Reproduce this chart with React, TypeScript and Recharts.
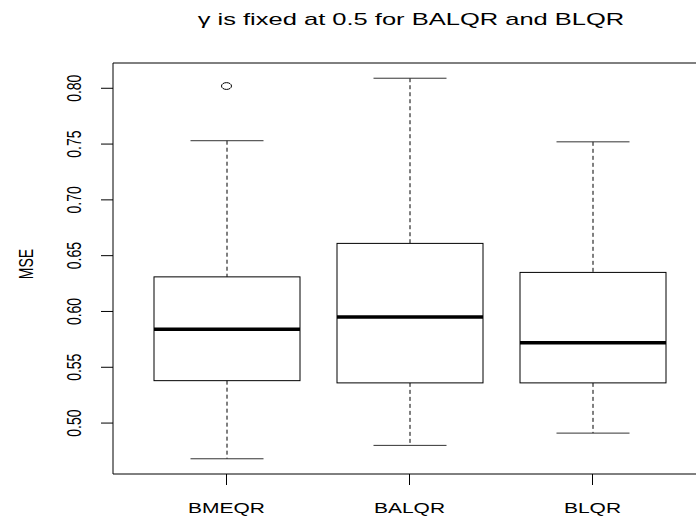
import { ComposedChart, Bar, Scatter, XAxis, YAxis, ReferenceLine } from "recharts";

const methods = ["BMEQR", "BALQR", "BLQR"];
const lowerWhisker = [0.468, 0.48, 0.491];
const lowerHinge = [0.538, 0.536, 0.536];
const medians = [0.584, 0.595, 0.572];
const upperHinge = [0.631, 0.661, 0.635];
const upperWhisker = [0.753, 0.809, 0.752];
const outliers: (number | null)[] = [0.802, null, null];
const yTicks = [0.5, 0.55, 0.6, 0.65, 0.7, 0.75, 0.8];

const rows = methods.map((name, i) => ({
  name,
  lo: lowerWhisker[i],
  q1: lowerHinge[i],
  median: medians[i],
  q3: upperHinge[i],
  hi: upperWhisker[i],
  outlier: outliers[i] ?? undefined,
}));

// base-graphics style range: data extremes padded by 4% each side
const allValues = [
  ...lowerWhisker,
  ...upperWhisker,
  ...outliers.filter((v): v is number => v != null),
];
const dataMin = Math.min(...allValues);
const dataMax = Math.max(...allValues);
const pad = (dataMax - dataMin) * 0.04;
const yDomain: [number, number] = [dataMin - pad, dataMax + pad];

const FONT = "'Liberation Sans', Arial, Helvetica, sans-serif";
const STRETCH = 1.5;

function BoxShape(props: any) {
  const { x, y, width, height, payload } = props;
  const top = Math.min(y, y + height);
  const bottom = Math.max(y, y + height);
  // whisker range spans [lo, hi]; hinges and median sit on the same linear scale
  const toY = (v: number) =>
    bottom - ((v - payload.lo) / (payload.hi - payload.lo)) * (bottom - top);
  const cx = x + width / 2;
  const q1 = toY(payload.q1);
  const q3 = toY(payload.q3);
  const med = toY(payload.median);
  const staple = width / 4;
  return (
    <g stroke="#000" fill="none">
      <line x1={cx} x2={cx} y1={top} y2={q3} strokeDasharray="4 3" />
      <line x1={cx} x2={cx} y1={q1} y2={bottom} strokeDasharray="4 3" />
      <line x1={cx - staple} x2={cx + staple} y1={top} y2={top} stroke="#333" />
      <line x1={cx - staple} x2={cx + staple} y1={bottom} y2={bottom} stroke="#333" />
      <rect x={x} y={q3} width={width} height={q1 - q3} fill="#fff" />
      <line x1={x} x2={x + width} y1={med} y2={med} strokeWidth={3.5} />
    </g>
  );
}

function OutlierShape(props: any) {
  const { cx, cy, payload } = props;
  if (payload?.outlier == null || !Number.isFinite(cy)) return <g />;
  return <ellipse cx={cx} cy={cy} rx={5} ry={3.4} fill="none" stroke="#000" />;
}

function MethodTick(props: any) {
  const { x, y, payload } = props;
  return (
    <text
      transform={`translate(${x},${y + 28}) scale(${STRETCH},1)`}
      textAnchor="middle"
      fontFamily={FONT}
      fontSize={14}
      fill="#000"
    >
      {payload.value}
    </text>
  );
}

function MseTick(props: any) {
  const { x, y, payload } = props;
  return (
    <text
      transform={`translate(${x - 27},${y}) scale(${STRETCH},1) rotate(-90)`}
      textAnchor="middle"
      dominantBaseline="central"
      fontFamily={FONT}
      fontSize={14}
      fill="#000"
    >
      {Number(payload.value).toFixed(2)}
    </text>
  );
}

export default function App() {
  return (
    <div
      style={{
        position: "absolute",
        left: 0,
        top: 0,
        width: 696,
        height: 518,
        overflow: "hidden",
        background: "#fff",
      }}
    >
      <div
        style={{
          position: "absolute",
          left: 0,
          top: 11,
          width: 822,
          textAlign: "center",
          fontFamily: FONT,
          fontSize: 17,
          lineHeight: "17px",
          color: "#000",
          transform: `scaleX(${STRETCH})`,
          transformOrigin: "411px 0",
          whiteSpace: "nowrap",
        }}
      >
        γ is fixed at 0.5 for BALQR and BLQR
      </div>
      <div
        style={{
          position: "absolute",
          left: 25,
          top: 264,
          fontFamily: FONT,
          fontSize: 14,
          lineHeight: "14px",
          whiteSpace: "nowrap",
          transform: `translate(-50%, -50%) scaleX(${STRETCH}) rotate(-90deg)`,
        }}
      >
        MSE
      </div>
      <ComposedChart
        width={720}
        height={518}
        data={rows}
        margin={{ top: 63, right: 14, bottom: 0, left: 0 }}
        style={{ position: "absolute", left: 0, top: 0 }}
      >
        <XAxis
          dataKey="name"
          type="category"
          interval={0}
          padding={{ left: 22, right: 22 }}
          height={44}
          tickSize={11}
          tickMargin={0}
          axisLine={{ stroke: "#000" }}
          tickLine={{ stroke: "#000" }}
          tick={<MethodTick />}
        />
        <YAxis
          type="number"
          domain={yDomain}
          ticks={yTicks}
          allowDataOverflow
          width={113}
          tickSize={12}
          tickMargin={0}
          axisLine={{ stroke: "#000" }}
          tickLine={{ stroke: "#000" }}
          tick={<MseTick />}
        />
        <ReferenceLine y={yDomain[1]} stroke="#000" />
        <Bar
          dataKey={(d: any) => [d.lo, d.hi]}
          barSize={146}
          shape={<BoxShape />}
          activeBar={false}
          isAnimationActive={false}
        />
        <Scatter
          dataKey="outlier"
          shape={<OutlierShape />}
          isAnimationActive={false}
        />
      </ComposedChart>
    </div>
  );
}
